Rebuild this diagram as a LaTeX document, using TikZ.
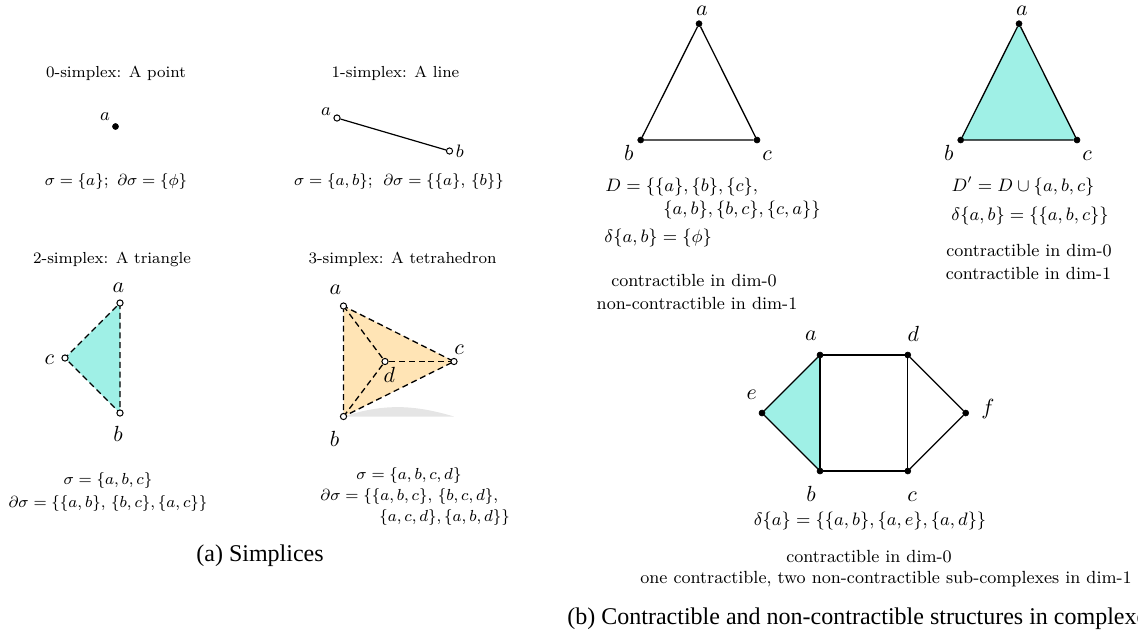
\documentclass[tikz,border=0pt]{standalone}
\usepackage{amsmath,amssymb}
\usepackage{fontspec}
\newfontfamily\capfont{Liberation Serif}
\usepackage{xcolor}
\usetikzlibrary{positioning}
\definecolor{myteal}{RGB}{159,240,230}
\definecolor{myorange}{RGB}{255,228,181}
\definecolor{myshadow}{RGB}{229,229,229}

\begin{document}
\begin{tikzpicture}[
    x=0.5pt, y=-0.5pt,
    dotv/.style={circle, fill=black, draw=black, line width=0.3pt, inner sep=0pt, minimum size=3.0pt},
    openv/.style={circle, fill=white, draw=black, line width=0.5pt, inner sep=0pt, minimum size=3.1pt},
    lab/.style={inner sep=0pt, font=\fontsize{10.5}{12}\selectfont},
    smalllab/.style={inner sep=0pt, font=\fontsize{9}{10}\selectfont},
    txt/.style={inner sep=0pt, align=center, font=\fontsize{8}{10}\selectfont},
    mathtxt/.style={inner sep=0pt, align=center, font=\fontsize{8.5}{10}\selectfont},
    rtxt/.style={inner sep=0pt, align=center, font=\fontsize{8.8}{10}\selectfont},
    captext/.style={inner sep=0pt, anchor=base west, font=\capfont\fontsize{12}{14}\selectfont},
    solidedge/.style={line width=0.65pt},
    dashedge/.style={line width=0.65pt, dash pattern=on 3pt off 1.9pt},
]
    \useasboundingbox (0,0) rectangle (1138,634);

    % 0-simplex
    \node[txt] (tzero) at (116,73) {0-simplex: A point};
    \node[dotv] (pa) at (115.5,126.5) {};
    \node[smalllab, above left=1.8pt and 1.4pt of pa] (lpa) {$a$};
    \node[mathtxt] (szero) at (116,181) {$\sigma=\{a\}$;\ \,$\partial\sigma=\{\phi\}$};

    % 1-simplex
    \node[txt] (tone) at (395.5,73) {1-simplex: A line};
    \node[openv] (qa) at (337,118) {};
    \node[openv] (qb) at (449.5,151) {};
    \draw[line width=0.6pt] (qa) -- (qb);
    \node[smalllab, left=1pt of qa, yshift=3pt] (lqa) {$a$};
    \node[smalllab, right=1.2pt of qb] (lqb) {$b$};
    \node[mathtxt] (sone) at (399,181) {$\sigma=\{a,b\}$;\ \;$\partial\sigma=\{\{a\},\,\{b\}\}$};

    % 2-simplex
    \node[txt] (ttwo) at (112,259) {2-simplex: A triangle};
    \coordinate (ra) at (120,303);
    \coordinate (rb) at (120,413);
    \coordinate (rc) at (65,358);
    \fill[myteal] (ra) -- (rb) -- (rc) -- cycle;
    \draw[dashedge] (ra) -- (rb) -- (rc) -- cycle;
    \node[openv] (vra) at (ra) {};
    \node[openv] (vrb) at (rb) {};
    \node[openv] (vrc) at (rc) {};
    \node[lab, above=3.5pt of vra, xshift=-0.8pt] (lra) {$a$};
    \node[lab, below=4.5pt of vrb, xshift=-1pt] (lrb) {$b$};
    \node[lab, left=3.5pt of vrc, yshift=-1pt] (lrc) {$c$};
    \node[mathtxt] (stwoa) at (108,480) {$\sigma=\{a,b,c\}$};
    \node[mathtxt, below=3.2pt of stwoa] (stwob) {$\partial\sigma=\{\{a,b\},\,\{b,c\},\{a,c\}\}$};

    % 3-simplex
    \node[txt] (tthree) at (402.5,259) {3-simplex: A tetrahedron};
    \coordinate (ua) at (343.5,306);
    \coordinate (ub) at (343.5,416.5);
    \coordinate (uc) at (454,361.5);
    \coordinate (ud) at (385,361.5);
    \fill[myshadow] (ub) .. controls (385,403) and (415,405) .. (454,416.5) -- cycle;
    \fill[myorange] (ua) -- (ub) -- (uc) -- cycle;
    \draw[dashedge] (ua) -- (ub) -- (uc) -- cycle;
    \draw[dashedge] (ua) -- (ud);
    \draw[dashedge] (ub) -- (ud);
    \draw[dashedge] (uc) -- (ud);
    \node[openv] (vua) at (ua) {};
    \node[openv] (vub) at (ub) {};
    \node[openv] (vuc) at (uc) {};
    \node[openv] (vud) at (ud) {};
    \node[lab, above=4pt of vua, xshift=-4pt] (lua) {$a$};
    \node[lab, below=5.5pt of vub, xshift=-4.5pt] (lub) {$b$};
    \node[lab, above=1.5pt of vuc, xshift=2.5pt] (luc) {$c$};
    \node[lab, below=0.8pt of vud, xshift=2.2pt] (lud) {$d$};
    \node[mathtxt] (sthreea) at (409,475) {$\sigma=\{a,b,c,d\}$};
    \node[mathtxt, anchor=west] (sthreeb) at (320,496) {$\partial\sigma=\{\{a,b,c\},\,\{b,c,d\},$};
    \node[mathtxt, anchor=west] (sthreec) at (379,517) {$\{a,c,d\},\{a,b,d\}\}$};

    \node[captext] (capa) at (196,561) {(a) Simplices};

    % Hollow triangle
    \node[dotv] (wa) at (699,23.7) {};
    \node[dotv] (wb) at (640.7,140) {};
    \node[dotv] (wc) at (757,140) {};
    \draw[solidedge] (wa) -- (wb) -- (wc) -- (wa);
    \node[lab, above=2.5pt of wa, xshift=1.5pt] (lwa) {$a$};
    \node[lab, below=1pt of wb, xshift=-6pt] (lwb) {$b$};
    \node[lab, below=3.7pt of wc, xshift=5pt] (lwc) {$c$};
    \node[rtxt, anchor=west] (da) at (605,187) {$D=\{\{a\},\{b\},\{c\},$};
    \node[rtxt, anchor=west] (db) at (663,210) {$\{a,b\},\{b,c\},\{c,a\}\}$};
    \node[rtxt, anchor=west] (dc) at (604,238) {$\delta\{a,b\}=\{\phi\}$};
    \node[rtxt] (dd) at (694,281) {contractible in dim-0};
    \node[rtxt] (de) at (697,303) {non-contractible in dim-1};

    % Filled triangle
    \coordinate (xa) at (1019,23.7);
    \coordinate (xb) at (960.7,140);
    \coordinate (xc) at (1077,140);
    \fill[myteal] (xa) -- (xb) -- (xc) -- cycle;
    \node[dotv] (vxa) at (xa) {};
    \node[dotv] (vxb) at (xb) {};
    \node[dotv] (vxc) at (xc) {};
    \draw[solidedge] (vxa) -- (vxb) -- (vxc) -- (vxa);
    \node[lab, above=2.5pt of vxa, xshift=1.5pt] (lxa) {$a$};
    \node[lab, below=1pt of vxb, xshift=-6pt] (lxb) {$b$};
    \node[lab, below=3.7pt of vxc, xshift=5pt] (lxc) {$c$};
    \node[rtxt] (ea) at (1023,186.5) {$D'=D\cup\{a,b,c\}$};
    \node[rtxt] (eb) at (1030,216) {$\delta\{a,b\}=\{\{a,b,c\}\}$};
    \node[rtxt] (ec) at (1029,251) {contractible in dim-0};
    \node[rtxt] (ed) at (1028.5,273) {contractible in dim-1};

    % Complex with one filled face
    \coordinate (ya) at (820,355);
    \coordinate (yb) at (820,471);
    \coordinate (ye) at (762,413);
    \fill[myteal] (ya) -- (yb) -- (ye) -- cycle;
    \node[dotv] (vya) at (ya) {};
    \node[dotv] (vyb) at (yb) {};
    \node[dotv] (vye) at (ye) {};
    \node[dotv] (vyc) at (907.8,471) {};
    \node[dotv] (vyd) at (907.8,355) {};
    \node[dotv] (vyf) at (965.7,413) {};
    \draw[solidedge] (vya) -- (vyb) -- (vyc) -- (vyd) -- (vya);
    \draw[solidedge] (vya) -- (vye) -- (vyb);
    \draw[solidedge] (vyd) -- (vyf) -- (vyc);
    \node[lab, above=5.5pt of vya, xshift=-4.5pt] (lya) {$a$};
    \node[lab, above=5pt of vyd, xshift=2.7pt] (lyd) {$d$};
    \node[lab, above left=5.5pt and 1.2pt of vye] (lye) {$e$};
    \node[lab, right=6pt of vyf, yshift=2pt] (lyf) {$f$};
    \node[lab, below=5.7pt of vyb, xshift=-4.5pt] (lyb) {$b$};
    \node[lab, below=8.5pt of vyc, xshift=2.2pt] (lyc) {$c$};
    \node[rtxt] (fa) at (870,521) {$\delta\{a\}=\{\{a,b\},\{a,e\},\{a,d\}\}$};
    \node[rtxt] (fb) at (869,557) {contractible in dim-0};
    \node[rtxt] (fc) at (886,579) {one contractible, two non-contractible sub-complexes in dim-1};

    \node[captext] (capb) at (567,624) {(b) Contractible and non-contractible structures in complexes};
\end{tikzpicture}
\end{document}
